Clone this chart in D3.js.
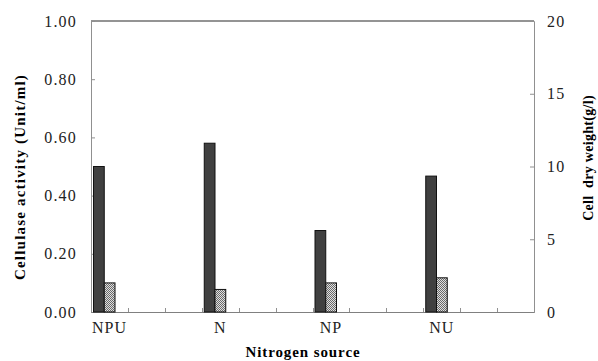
<!DOCTYPE html>
<html>
<head>
<meta charset="utf-8">
<script src="https://cdn.jsdelivr.net/npm/d3@7"></script>
<style>
  body { margin: 0; background: #fff; }
  svg text { font-family: "Liberation Serif", "Times New Roman", serif !important; }
</style>
</head>
<body>
<svg width="598" height="361"></svg>
<script>
var svg = d3.select("svg");

// 12 category slots, only four have labels/bars
var slots = ["NPU", "s1", "s2", "N", "s4", "s5", "NP", "s7", "s8", "NU", "s10", "s11"];
var sources = ["NPU", "N", "NP", "NU"];
var cellulase = [0.50, 0.58, 0.28, 0.467];   // Unit/ml, left axis
var dryWeight = [2.0, 1.55, 2.0, 2.35];      // g/l, right axis
var leftTicks = [0, 0.2, 0.4, 0.6, 0.8, 1.0];
var rightTicks = [0, 5, 10, 15, 20];

var pL = 91, pR = 534, pT = 21, pB = 312;

var x = d3.scaleBand().domain(slots).range([pL, pR]);
var sub = d3.scaleBand().domain(["c", "w"]).range([2.5, 24]);
var yL = d3.scaleLinear().domain([0, 1]).range([pB, pT]);
var yR = d3.scaleLinear().domain([0, 20]).range([pB, pT]);

var defs = svg.append("defs");
var pat = defs.append("pattern")
    .attr("id", "hatch")
    .attr("width", 2).attr("height", 2)
    .attr("patternUnits", "userSpaceOnUse");
pat.append("rect").attr("width", 2).attr("height", 2).attr("fill", "#e0e0e0");
pat.append("rect").attr("width", 1).attr("height", 1).attr("fill", "#6a6a6a");
pat.append("rect").attr("x", 1).attr("y", 1).attr("width", 1).attr("height", 1).attr("fill", "#6a6a6a");

// frame
svg.append("line").attr("x1", pL).attr("x2", pR).attr("y1", pT).attr("y2", pT)
    .attr("stroke", "#707070").attr("stroke-width", 1.5);

// axes
var axL = svg.append("g").attr("transform", "translate(" + pL + ",0)")
    .call(d3.axisLeft(yL).tickValues(leftTicks).tickFormat(d3.format(".2f")).tickSize(-4).tickPadding(14));
var axR = svg.append("g").attr("transform", "translate(" + pR + ",0)")
    .call(d3.axisRight(yR).tickValues(rightTicks).tickSize(-4).tickPadding(13));
var axB = svg.append("g").attr("transform", "translate(0," + pB + ")")
    .call(d3.axisBottom(x).tickValues([]).tickSizeOuter(0));

// category boundary ticks
svg.append("g").selectAll("line")
  .data(slots.slice(1))
  .enter().append("line")
    .attr("x1", function(d) { return Math.round(x(d)) + 0.5; })
    .attr("x2", function(d) { return Math.round(x(d)) + 0.5; })
    .attr("y1", pB).attr("y2", pB - 4)
    .attr("stroke", "#909090");

[axL, axR, axB].forEach(function(a) {
  a.attr("font-family", "Liberation Serif");
  a.selectAll("path, line").attr("stroke", "#909090");
  a.selectAll("text").attr("font-size", 16).attr("fill", "#222")
    .attr("letter-spacing", "1.2px");
});
axB.select(".domain").attr("stroke", "#808080");

// category labels
svg.append("g").selectAll("text")
  .data(sources)
  .enter().append("text")
    .attr("x", function(d) { return x(d) + x.bandwidth() / 2; })
    .attr("y", 333)
    .attr("text-anchor", "middle")
    .attr("font-size", 16)
    .attr("letter-spacing", "1px")
    .attr("fill", "#222")
    .text(function(d) { return d; });

// bars
var g = svg.append("g");
g.selectAll(".dark")
  .data(sources)
  .enter().append("rect")
    .attr("class", "dark")
    .attr("x", function(d) { return x(d) + sub("c"); })
    .attr("width", sub.bandwidth())
    .attr("y", function(d, i) { return yL(cellulase[i]); })
    .attr("height", function(d, i) { return pB - yL(cellulase[i]); })
    .attr("fill", "#404040")
    .attr("stroke", "#111").attr("stroke-width", 1);

g.selectAll(".light")
  .data(sources)
  .enter().append("rect")
    .attr("class", "light")
    .attr("x", function(d) { return x(d) + sub("w"); })
    .attr("width", sub.bandwidth())
    .attr("y", function(d, i) { return yR(dryWeight[i]); })
    .attr("height", function(d, i) { return pB - yR(dryWeight[i]); })
    .attr("fill", "url(#hatch)")
    .attr("stroke", "#111").attr("stroke-width", 1);

// titles
svg.append("text")
    .attr("transform", "translate(25,177) rotate(-90)")
    .attr("text-anchor", "middle")
    .attr("font-size", 15).attr("font-weight", "bold")
    .attr("letter-spacing", "1.2px")
    .text("Cellulase activity (Unit/ml)");

svg.append("text")
    .attr("transform", "translate(593,158) rotate(-90)")
    .attr("text-anchor", "middle")
    .attr("font-size", 14).attr("font-weight", "bold")
    .attr("letter-spacing", "0.3px")
    .attr("xml:space", "preserve")
    .style("white-space", "pre")
    .text("Cell  dry weight(g/l)");

svg.append("text")
    .attr("x", 303).attr("y", 357)
    .attr("text-anchor", "middle")
    .attr("font-size", 15).attr("font-weight", "bold")
    .attr("letter-spacing", "0.9px")
    .text("Nitrogen source");
</script>
</body>
</html>
